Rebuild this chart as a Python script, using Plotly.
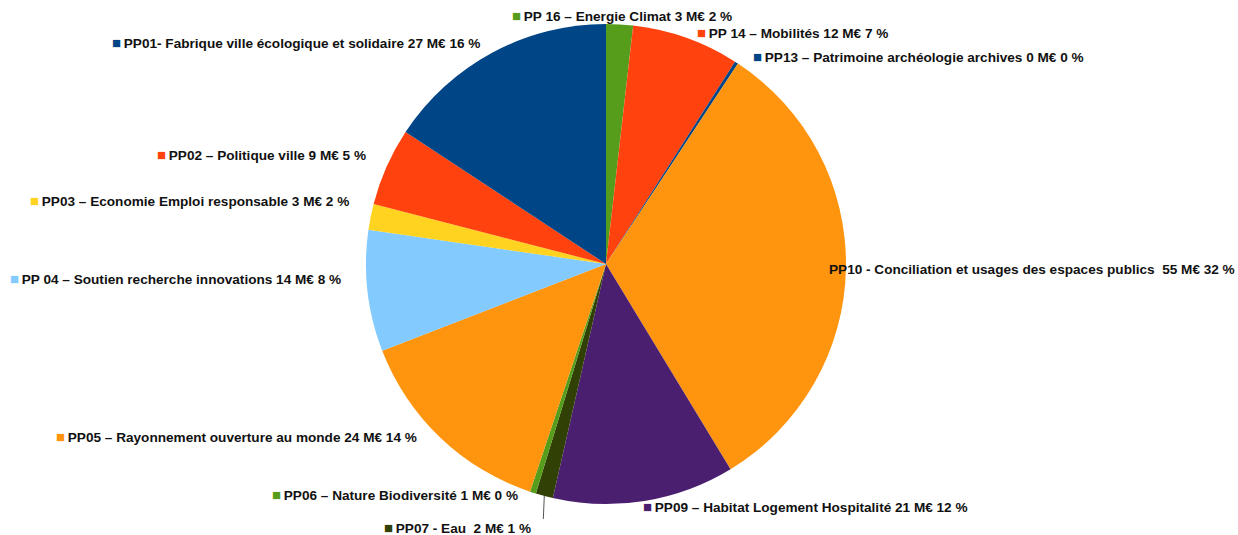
import math
import plotly.graph_objects as go

# ---- data (clockwise from 12 o'clock) ----
codes = ["PP 16", "PP 14", "PP13", "PP10", "PP09", "PP07", "PP06", "PP05", "PP 04", "PP03", "PP02", "PP01"]
names = ["Energie Climat", "Mobilités", "Patrimoine archéologie archives",
         "Conciliation et usages des espaces publics", "Habitat Logement Hospitalité",
         "Eau", "Nature Biodiversité", "Rayonnement ouverture au monde",
         "Soutien recherche innovations", "Economie Emploi responsable",
         "Politique ville", "Fabrique ville écologique et solidaire"]
values_meur = [3.1, 12.4, 0.4, 55, 21, 2, 0.7, 24, 14, 3, 9, 27]
amount_labels = ["3", "12", "0", "55", "21", "2", "1", "24", "14", "3", "9", "27"]
pct_labels = ["2", "7", "0", "32", "12", "1", "0", "14", "8", "2", "5", "16"]
separators = [" – ", " – ", " – ", " - ", " – ", " - ", " – ", " – ", " – ", " – ", " – ", "- "]

# ---- styling ----
colors = ["#579d1c", "#ff420e", "#004586", "#ff950e", "#4b1f6f", "#314004",
          "#579d1c", "#ff950e", "#83caff", "#ffd320", "#ff420e", "#004586"]
W, H = 1238, 535
CX, CY, R = 606, 264, 240
# label anchor (left x, center y) in pixels
label_pos = [(510, 15), (695, 32), (751, 57), (827, 270), (641, 506), (382, 527),
             (270, 494), (54, 436), (8, 278), (28, 200), (155, 154), (110, 43)]
show_square = [True] * 12
show_square[3] = False
double_space_before_amount = [False] * 12
double_space_before_amount[3] = True
double_space_before_amount[5] = True
FONT = "Liberation Sans"

fig = go.Figure()
fig.add_trace(go.Pie(
    labels=[c + " " + n for c, n in zip(codes, names)],
    values=values_meur,
    sort=False,
    direction="clockwise",
    rotation=0,
    textinfo="none",
    hoverinfo="label+value+percent",
    marker=dict(colors=colors, line=dict(width=0)),
    domain=dict(x=[(CX - R) / W, (CX + R) / W], y=[1 - (CY + R) / H, 1 - (CY - R) / H]),
    showlegend=False,
))

annotations = []
for i in range(len(codes)):
    px, py = label_pos[i]
    gap = "\u00a0 " if double_space_before_amount[i] else " "
    txt = f"{codes[i]}{separators[i]}{names[i]}{gap}{amount_labels[i]} M€ {pct_labels[i]} %"
    if show_square[i]:
        txt = f"<span style='color:{colors[i]};font-size:15px'>■</span>\u2009" + txt
    annotations.append(dict(
        x=px / W, y=1 - py / H, xref="paper", yref="paper",
        xanchor="left", yanchor="middle", text=txt, showarrow=False,
        font=dict(family=FONT, size=13.6, color="#111111", weight="bold"),
    ))

# leader line for PP07, from slice edge down to label
total = sum(values_meur)
cum = sum(values_meur[:5])
mid = (cum + values_meur[5] / 2) / total * 2 * math.pi
ex = CX + R * math.sin(mid)
ey = CY - R * math.cos(mid)
shapes = [dict(type="line", xref="paper", yref="paper",
               x0=ex / W, y0=1 - ey / H, x1=(ex - 1) / W, y1=1 - 519 / H,
               line=dict(color="#555555", width=1))]

fig.update_layout(
    width=W, height=H,
    margin=dict(l=0, r=0, t=0, b=0),
    paper_bgcolor="white", plot_bgcolor="white",
    annotations=annotations, shapes=shapes,
)
fig.write_html("out.html", config={"displayModeBar": False},
               post_script="document.body.style.margin='0';")
